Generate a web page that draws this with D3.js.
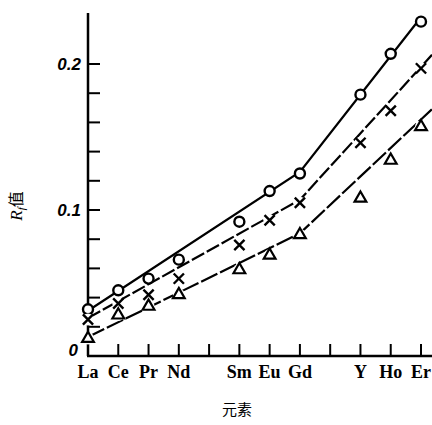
<!DOCTYPE html>
<html>
<head>
<meta charset="utf-8">
<script src="https://cdn.jsdelivr.net/npm/d3@7"></script>
<style>
  body { margin: 0; background: #fff; }
  svg { display: block; }
</style>
</head>
<body>
<div id="chart"></div>
<script>
// element slots on the x axis (blank slots carry a tick but no label)
var elements = ["La", "Ce", "Pr", "Nd", "Pm", "Sm", "Eu", "Gd", "Tb", "Y", "Ho", "Er"]
var tickLabels = ["La", "Ce", "Pr", "Nd", "", "Sm", "Eu", "Gd", "", "Y", "Ho", "Er"]
var yTicks = [0, 0.02, 0.04, 0.06, 0.08, 0.1, 0.12, 0.14, 0.16, 0.18, 0.2]

// measured Rf values
var circleEl = ["La", "Ce", "Pr", "Nd", "Sm", "Eu", "Gd", "Y", "Ho", "Er"]
var circleVals = [0.032, 0.045, 0.053, 0.066, 0.092, 0.113, 0.125, 0.179, 0.207, 0.229]
var crossEl = ["La", "Ce", "Pr", "Nd", "Sm", "Eu", "Gd", "Y", "Ho", "Er"]
var crossVals = [0.025, 0.036, 0.042, 0.053, 0.076, 0.093, 0.105, 0.146, 0.168, 0.197]
var triEl = ["La", "Ce", "Pr", "Nd", "Sm", "Eu", "Gd", "Y", "Ho", "Er"]
var triVals = [0.012, 0.028, 0.034, 0.042, 0.059, 0.069, 0.083, 0.108, 0.134, 0.157]

// fitted lines: value at La, Gd, Er
var fitEl = ["La", "Gd", "Er"]
var circleFit = [0.031, 0.126, 0.232]
var crossFit = [0.026, 0.107, 0.198]
var triFit = [0.013, 0.084, 0.162]

var W = 432, H = 425

var svg = d3.select("#chart").append("svg")
    .attr("width", W)
    .attr("height", H)

var x = d3.scalePoint()
    .domain(elements)
    .range([88, 421])

var y = d3.scaleLinear()
    .domain([0, 0.2])
    .range([356, 64])

// axes lines
svg.append("line")
    .attr("x1", 88).attr("x2", 88)
    .attr("y1", 13).attr("y2", y(0))
    .attr("stroke", "#000").attr("stroke-width", 2.5)
svg.append("line")
    .attr("x1", 87).attr("x2", W)
    .attr("y1", y(0)).attr("y2", y(0))
    .attr("stroke", "#000").attr("stroke-width", 2.5)

// y ticks (inward)
svg.selectAll(".yt")
    .data(yTicks.slice(1))
    .enter().append("line")
    .attr("x1", 88).attr("x2", 100)
    .attr("y1", d => y(d)).attr("y2", d => y(d))
    .attr("stroke", "#000").attr("stroke-width", 2)

// x ticks (upward)
svg.selectAll(".xt")
    .data(elements.slice(1))
    .enter().append("line")
    .attr("x1", d => x(d)).attr("x2", d => x(d))
    .attr("y1", y(0)).attr("y2", y(0) - 12)
    .attr("stroke", "#000").attr("stroke-width", 2)

// y tick labels
var yLab = [[0.2, "0.2"], [0.1, "0.1"], [0, "0"]]
svg.selectAll(".yl")
    .data(yLab)
    .enter().append("text")
    .attr("x", d => d[0] == 0 ? 78 : 81)
    .attr("y", d => y(d[0]) + 6 - (d[0] == 0 ? 6 : 0))
    .attr("text-anchor", "end")
    .attr("font-family", "Liberation Sans, Arial, sans-serif")
    .attr("font-weight", "bold")
    .attr("font-style", "italic")
    .attr("font-size", 17)
    .text(d => d[1])

// x tick labels
svg.selectAll(".xl")
    .data(elements)
    .enter().append("text")
    .attr("x", d => x(d))
    .attr("y", 378)
    .attr("text-anchor", "middle")
    .attr("font-family", "Liberation Serif, Times New Roman, serif")
    .attr("font-weight", "bold")
    .attr("font-size", 18)
    .text((d, i) => tickLabels[i])

// axis titles
svg.append("text")
    .attr("transform", "translate(22,206) rotate(-90)")
    .attr("text-anchor", "middle")
    .attr("font-family", "Liberation Serif, serif")
    .attr("font-size", 17)
    .html('<tspan font-style="italic">R</tspan><tspan font-size="11" dy="3" font-style="italic">f</tspan><tspan dy="-3" font-family="Noto Sans CJK SC" font-size="16">值</tspan>')

svg.append("text")
    .attr("x", 237)
    .attr("y", 415)
    .attr("text-anchor", "middle")
    .attr("font-family", "Noto Sans CJK SC, sans-serif")
    .attr("font-size", 15)
    .text("元素")

// fitted lines, extended a little past Er for the lower two
function fitLine(vals, extend) {
    var pts = fitEl.map((e, i) => [x(e), y(vals[i])])
    if (extend) {
        var a = pts[1], b = pts[2]
        var k = (b[1] - a[1]) / (b[0] - a[0])
        pts.push([W, b[1] + k * (W - b[0])])
    }
    return pts
}

var line = d3.line()

svg.append("path").attr("d", line(fitLine(circleFit, false)))
    .attr("fill", "none").attr("stroke", "#000").attr("stroke-width", 2.2)
svg.append("path").attr("d", line(fitLine(crossFit, true)))
    .attr("fill", "none").attr("stroke", "#000").attr("stroke-width", 2.2)
    .attr("stroke-dasharray", "14,3")
svg.append("path").attr("d", line(fitLine(triFit, true)))
    .attr("fill", "none").attr("stroke", "#000").attr("stroke-width", 2.2)
    .attr("stroke-dasharray", "18,3")

// markers with white halo so the line breaks around them
svg.selectAll(".mc")
    .data(circleVals)
    .enter().append("circle")
    .attr("cx", (d, i) => x(circleEl[i]))
    .attr("cy", d => y(d))
    .attr("r", 5)
    .attr("fill", "#fff")
    .attr("stroke", "#000")
    .attr("stroke-width", 2.4)

var crossSym = d3.symbol().type(d3.symbolX).size(70)
var gx = svg.selectAll(".mx")
    .data(crossVals)
    .enter().append("g")
    .attr("transform", (d, i) => "translate(" + x(crossEl[i]) + "," + y(d) + ")")
gx.append("circle").attr("r", 6).attr("fill", "#fff")
gx.append("path").attr("d", crossSym)
    .attr("fill", "none").attr("stroke", "#000").attr("stroke-width", 2.4)

var triSym = d3.symbol().type(d3.symbolTriangle).size(60)
var gt = svg.selectAll(".mt")
    .data(triVals)
    .enter().append("g")
    .attr("transform", (d, i) => "translate(" + x(triEl[i]) + "," + y(d) + ")")
gt.append("circle").attr("r", 6).attr("fill", "#fff")
gt.append("path").attr("d", triSym)
    .attr("fill", "#fff").attr("stroke", "#000").attr("stroke-width", 2.2)
</script>
</body>
</html>
